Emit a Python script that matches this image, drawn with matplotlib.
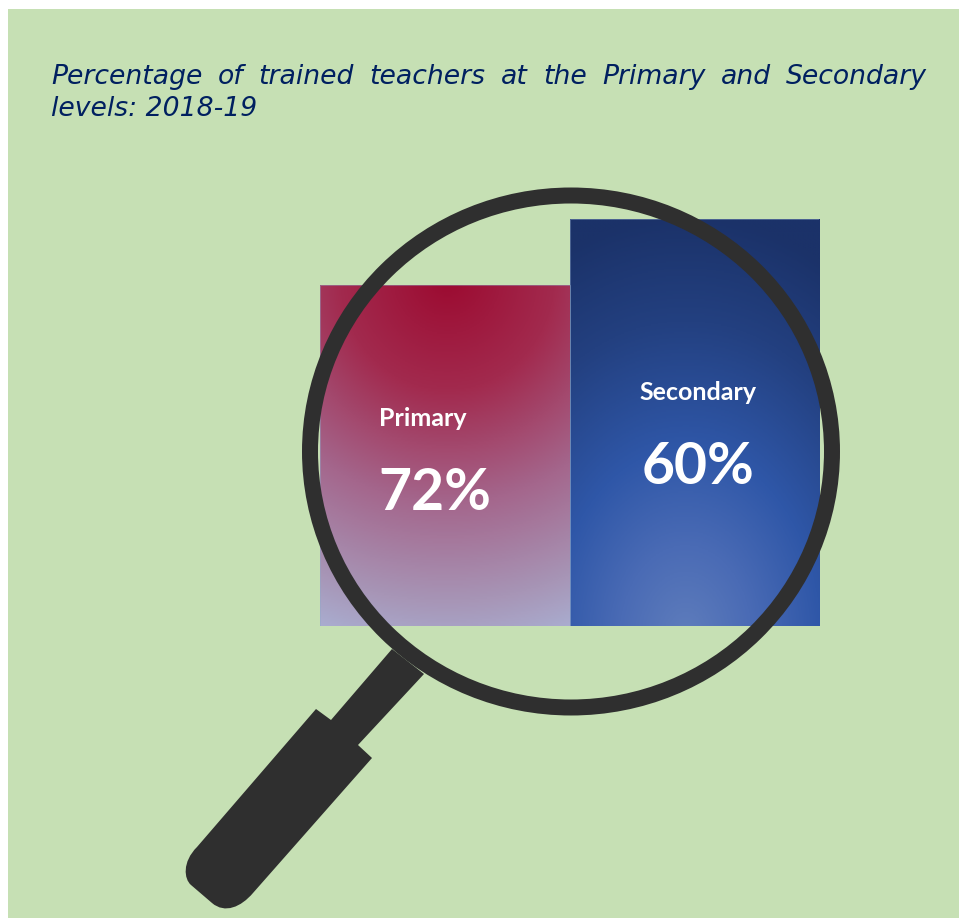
import numpy as np
import matplotlib
matplotlib.use("Agg")
import matplotlib.pyplot as plt
from matplotlib.colors import LinearSegmentedColormap
from matplotlib.patches import Ellipse, PathPatch, Rectangle
from matplotlib.path import Path

categories = ["Primary", "Secondary"]
value_labels = ["72%", "60%"]
# drawn heights: the taller bar carries the 60% label
bar_heights = [60.3, 72]
title_lines = ["Percentage of trained teachers at the Primary and Secondary", "levels: 2018-19"]

W, H = 959, 918
BG = "#C6E0B4"
DARK = "#2F2F2F"
NAVY = "#002060"


def radial(cx, cy, ax_x, ax_y, x0, x1, y0, y1):
    xs, ys = np.meshgrid(np.linspace(x0, x1, 300), np.linspace(y0, y1, 300))
    return np.clip(np.sqrt(((xs - cx) / ax_x) ** 2 + ((ys - cy) / ax_y) ** 2), 0, 1)


fig = plt.figure(figsize=(W / 100, H / 100), dpi=100, facecolor="white")

# background
bg = fig.add_axes([0, 0, 1, 1], zorder=0)
bg.set_xlim(0, W)
bg.set_ylim(H, 0)
bg.axis("off")
bg.add_patch(Rectangle((8, 9), W - 8, H - 9, color=BG, lw=0))

# bars, in their own axes, pixel box 320-819 x 219-626
ax = fig.add_axes([320 / W, 1 - 626.3 / H, 499 / W, 407.7 / H], zorder=1)
ax.set_xlim(-0.5, 1.5)
ax.set_ylim(0, max(bar_heights))
ax.axis("off")
bars = ax.bar(range(len(categories)), bar_heights, width=1, color="none", edgecolor="#8FA8C880", linewidth=0.6, zorder=3)

red_map = LinearSegmentedColormap.from_list("red", [(0, "#9C0A30"), (0.25, "#A22A4E"), (0.5, "#A4668C"), (0.72, "#A795B6"), (0.9, "#ABBCE0"), (1, "#ABBCE0")])
blue_map = LinearSegmentedColormap.from_list("blue", [(0, "#5F7DBC"), (0.22, "#4A6BB5"), (0.45, "#2F57A8"), (0.75, "#234080"), (1, "#1B3269")])

# gradients are worked out in pixel space, then clipped to each bar
red = radial(447, 278, 430, 450, 320, 569.5, 219, 626)
blue = radial(685, 640, 300, 425, 569.5, 819, 219, 626)
top = max(bar_heights)
for bar, img, cmap in zip(bars, [red, blue], [red_map, blue_map]):
    x = bar.get_x()
    im = ax.imshow(img, cmap=cmap, vmin=0, vmax=1, extent=[x, x + bar.get_width(), 0, top],
                   origin="upper", aspect="auto", zorder=2)
    im.set_clip_path(bar)
ax.set_xlim(-0.5, 1.5)
ax.set_ylim(0, top)

# magnifier and text on top
over = fig.add_axes([0, 0, 1, 1], zorder=2)
over.set_xlim(0, W)
over.set_ylim(H, 0)
over.axis("off")
over.patch.set_alpha(0)

over.add_patch(Ellipse((571, 451.5), 522, 512, fill=False, edgecolor=DARK, linewidth=16 * 0.72))

verts = [(392, 649), (424, 674), (358, 745), (372, 758), (253, 893),
         (241, 907), (225, 914), (212, 903), (191, 885),
         (184, 879), (182, 862), (197, 847), (316, 709), (331, 720), (392, 649)]
codes = [Path.MOVETO, Path.LINETO, Path.LINETO, Path.LINETO, Path.LINETO,
         Path.CURVE4, Path.CURVE4, Path.CURVE4, Path.LINETO,
         Path.CURVE4, Path.CURVE4, Path.CURVE4, Path.LINETO, Path.LINETO, Path.CLOSEPOLY]
over.add_patch(PathPatch(Path(verts, codes), facecolor=DARK, edgecolor="none"))

# title is justified in the source, so the first line is spaced word by word
renderer = fig.canvas.get_renderer()
t_font = dict(family="DejaVu Sans", style="italic", fontsize=19.2, color=NAVY, va="baseline")
words = title_lines[0].split()
items = [over.text(0, 84, w, **t_font) for w in words]
widths = [i.get_window_extent(renderer).width for i in items]
x0, x1 = 51, 927
gap = (x1 - x0 - sum(widths)) / (len(words) - 1)
x = x0
for item, w in zip(items, widths):
    item.set_x(x)
    x += w + gap
over.text(x0, 116, title_lines[1], **t_font)

label_pos = [(423, 426), (698, 400)]
value_pos = [(435, 510), (698, 484)]
for cat, val, lp, vp in zip(categories, value_labels, label_pos, value_pos):
    over.text(lp[0], lp[1], cat, family="Lato", weight="bold", fontsize=18, color="white", ha="center", va="baseline")
    over.text(vp[0], vp[1], val, family="Lato", weight="bold", fontsize=41, color="white", ha="center", va="baseline")

fig.savefig("out.png", dpi=100)
plt.close()
